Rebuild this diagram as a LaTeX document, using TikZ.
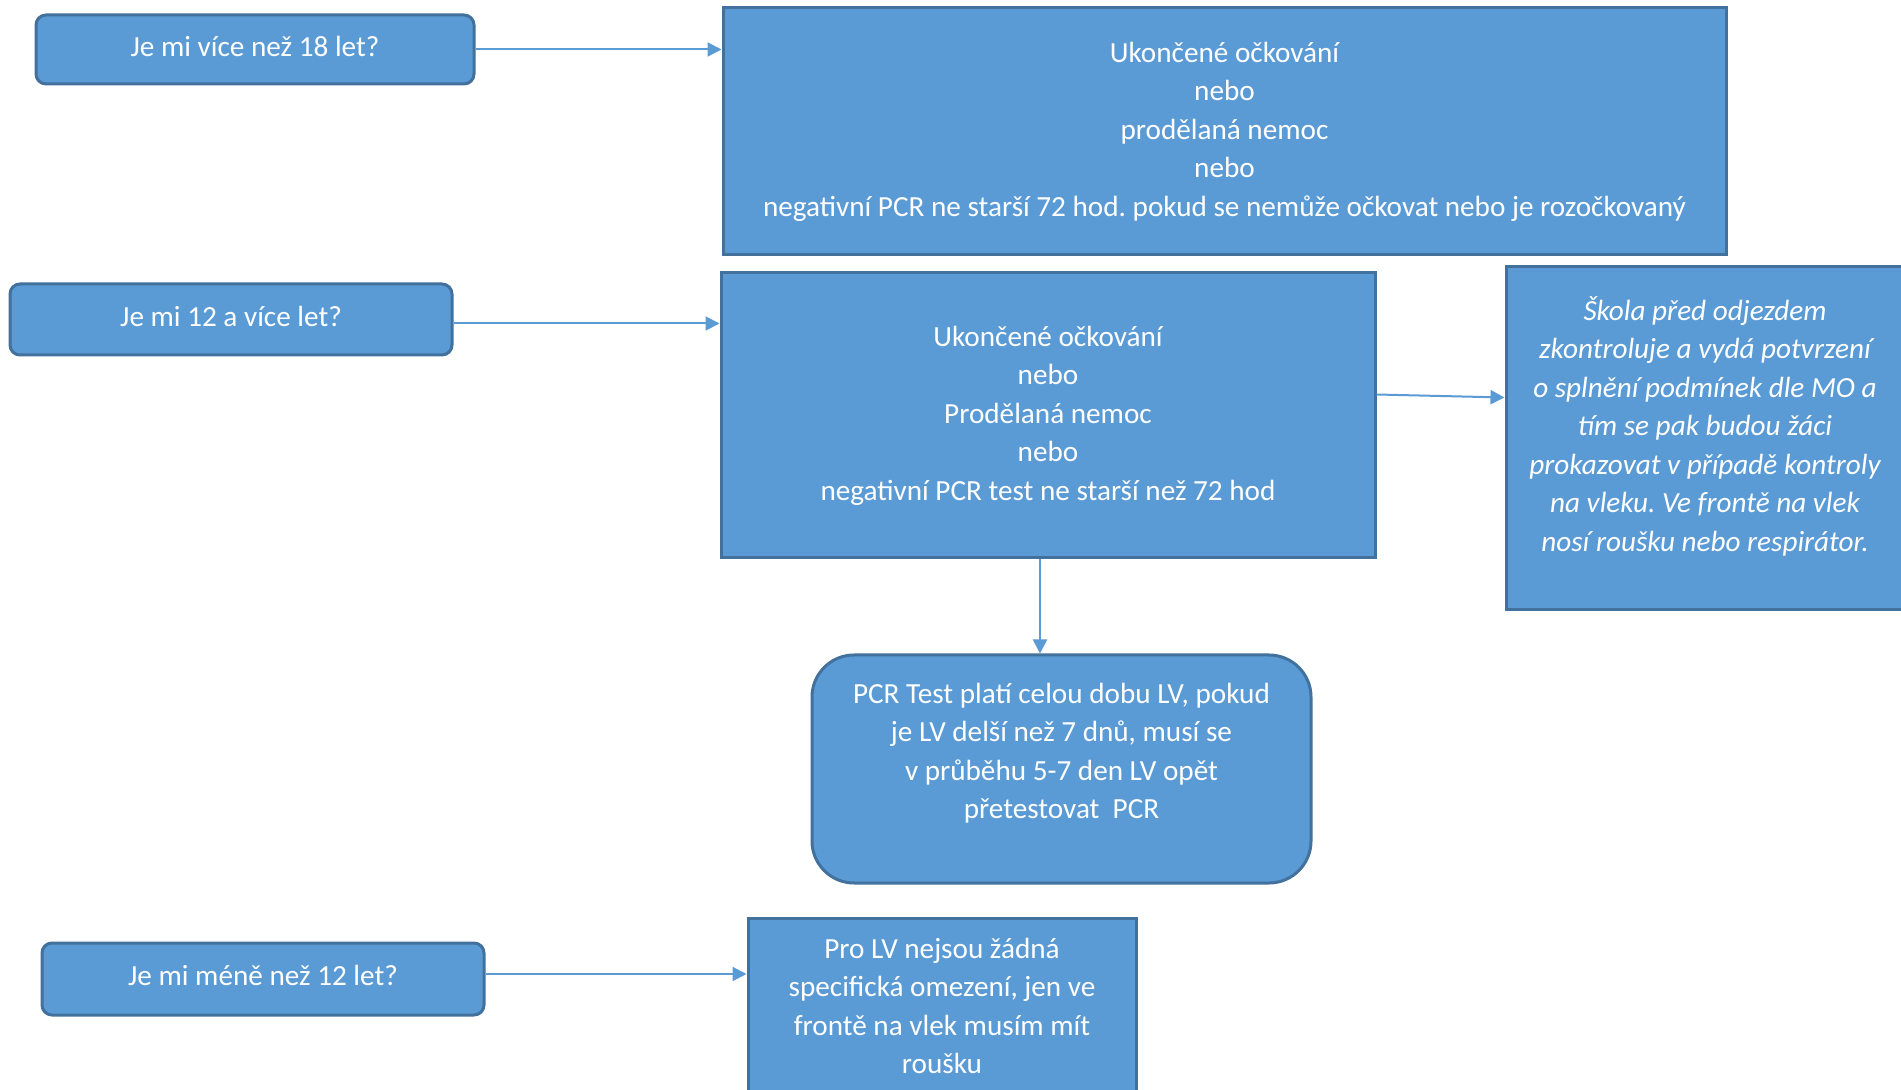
\documentclass[tikz,border=0pt]{standalone}
\usepackage{fontspec}
\setmainfont{Carlito}
\frenchspacing
\usetikzlibrary{arrows.meta,positioning}
\definecolor{boxblue}{RGB}{91,155,213}
\definecolor{edgeblue}{RGB}{65,113,156}
\begin{document}
\begin{tikzpicture}[x=0.5pt, y=-0.5pt, >={Triangle[length=7pt,width=7pt]}]
	\tikzstyle{rect} = [rectangle, draw=edgeblue, fill=boxblue, line width=1.5pt, text=white, align=center, inner sep=0pt, font=\fontsize{14.6}{19.25}\selectfont]
	\tikzstyle{question} = [rect, rounded corners=5pt, minimum width=220pt, minimum height=35pt, text depth=3.5pt]
	\tikzstyle{arr} = [->, draw=boxblue, line width=1pt]
	\clip (0,0) rectangle (1901,1090);
	\fill[white] (0,0) rectangle (1901,1090);
	% questions on the left
	\node (q18) [question, minimum width=219pt, minimum height=34.5pt] at (255,49.5) {Je mi více než 18 let?};
	\node (q12) [question, minimum width=221pt, minimum height=35.5pt] at (231,319.5) {Je mi 12 a více let?};
	\node (q0) [question, minimum width=221pt, minimum height=36pt] at (263,979) {Je mi méně než 12 let?};
	% answers
	\node (r18) [rect, minimum width=501.5pt, minimum height=123.5pt] at (1224.5,131.5) {Ukončené očkování\\nebo\\prodělaná nemoc\\nebo\\negativní PCR ne starší 72 hod. pokud se nemůže očkovat nebo je rozočkovaný};
	\node (r12) [rect, minimum width=327pt, minimum height=142.5pt] at (1048,415.5) {Ukončené očkování\\nebo\\Prodělaná nemoc\\nebo\\negativní PCR test ne starší než 72 hod};
	\node (skola) [rect, minimum width=199pt, minimum height=171.5pt, font=\fontsize{14.6}{19.25}\selectfont\itshape] at (1705,438.5) {Škola před odjezdem\\zkontroluje a vydá potvrzení\\o splnění podmínek dle MO a\\tím se pak budou žáci\\prokazovat v případě kontroly\\na vleku. Ve frontě na vlek\\nosí roušku nebo respirátor.\rule[-14.5pt]{0pt}{0pt}};
	\node (pcr) [rect, rounded corners=21pt, minimum width=249.5pt, minimum height=114pt] at (1061.5,769) {PCR Test platí celou dobu LV, pokud\\je LV delší než 7 dnů, musí se\\v průběhu 5-7 den LV opět\\přetestovat \ PCR\rule[-18pt]{0pt}{0pt}};
	\node (r0) [rect, minimum width=194pt, minimum height=88pt] at (942,1006) {Pro LV nejsou žádná\\specifická omezení, jen ve\\frontě na vlek musím mít\\roušku};
	% connectors
	\draw[arr] (q18.east) -- (q18.east -| r18.west);
	\draw[arr] ([yshift=-2pt]q12.east) -- ([yshift=-2pt]q12.east -| r12.west);
	\draw[arr] ([yshift=10.5pt]r12.east) -- ([yshift=20.5pt]skola.west);
	\draw[arr] ([xshift=-4pt]r12.south) -- ([xshift=-4pt]r12.south |- pcr.north);
	\draw[arr] ([yshift=2.5pt]q0.east) -- ([yshift=2.5pt]q0.east -| r0.west);
\end{tikzpicture}
\end{document}
